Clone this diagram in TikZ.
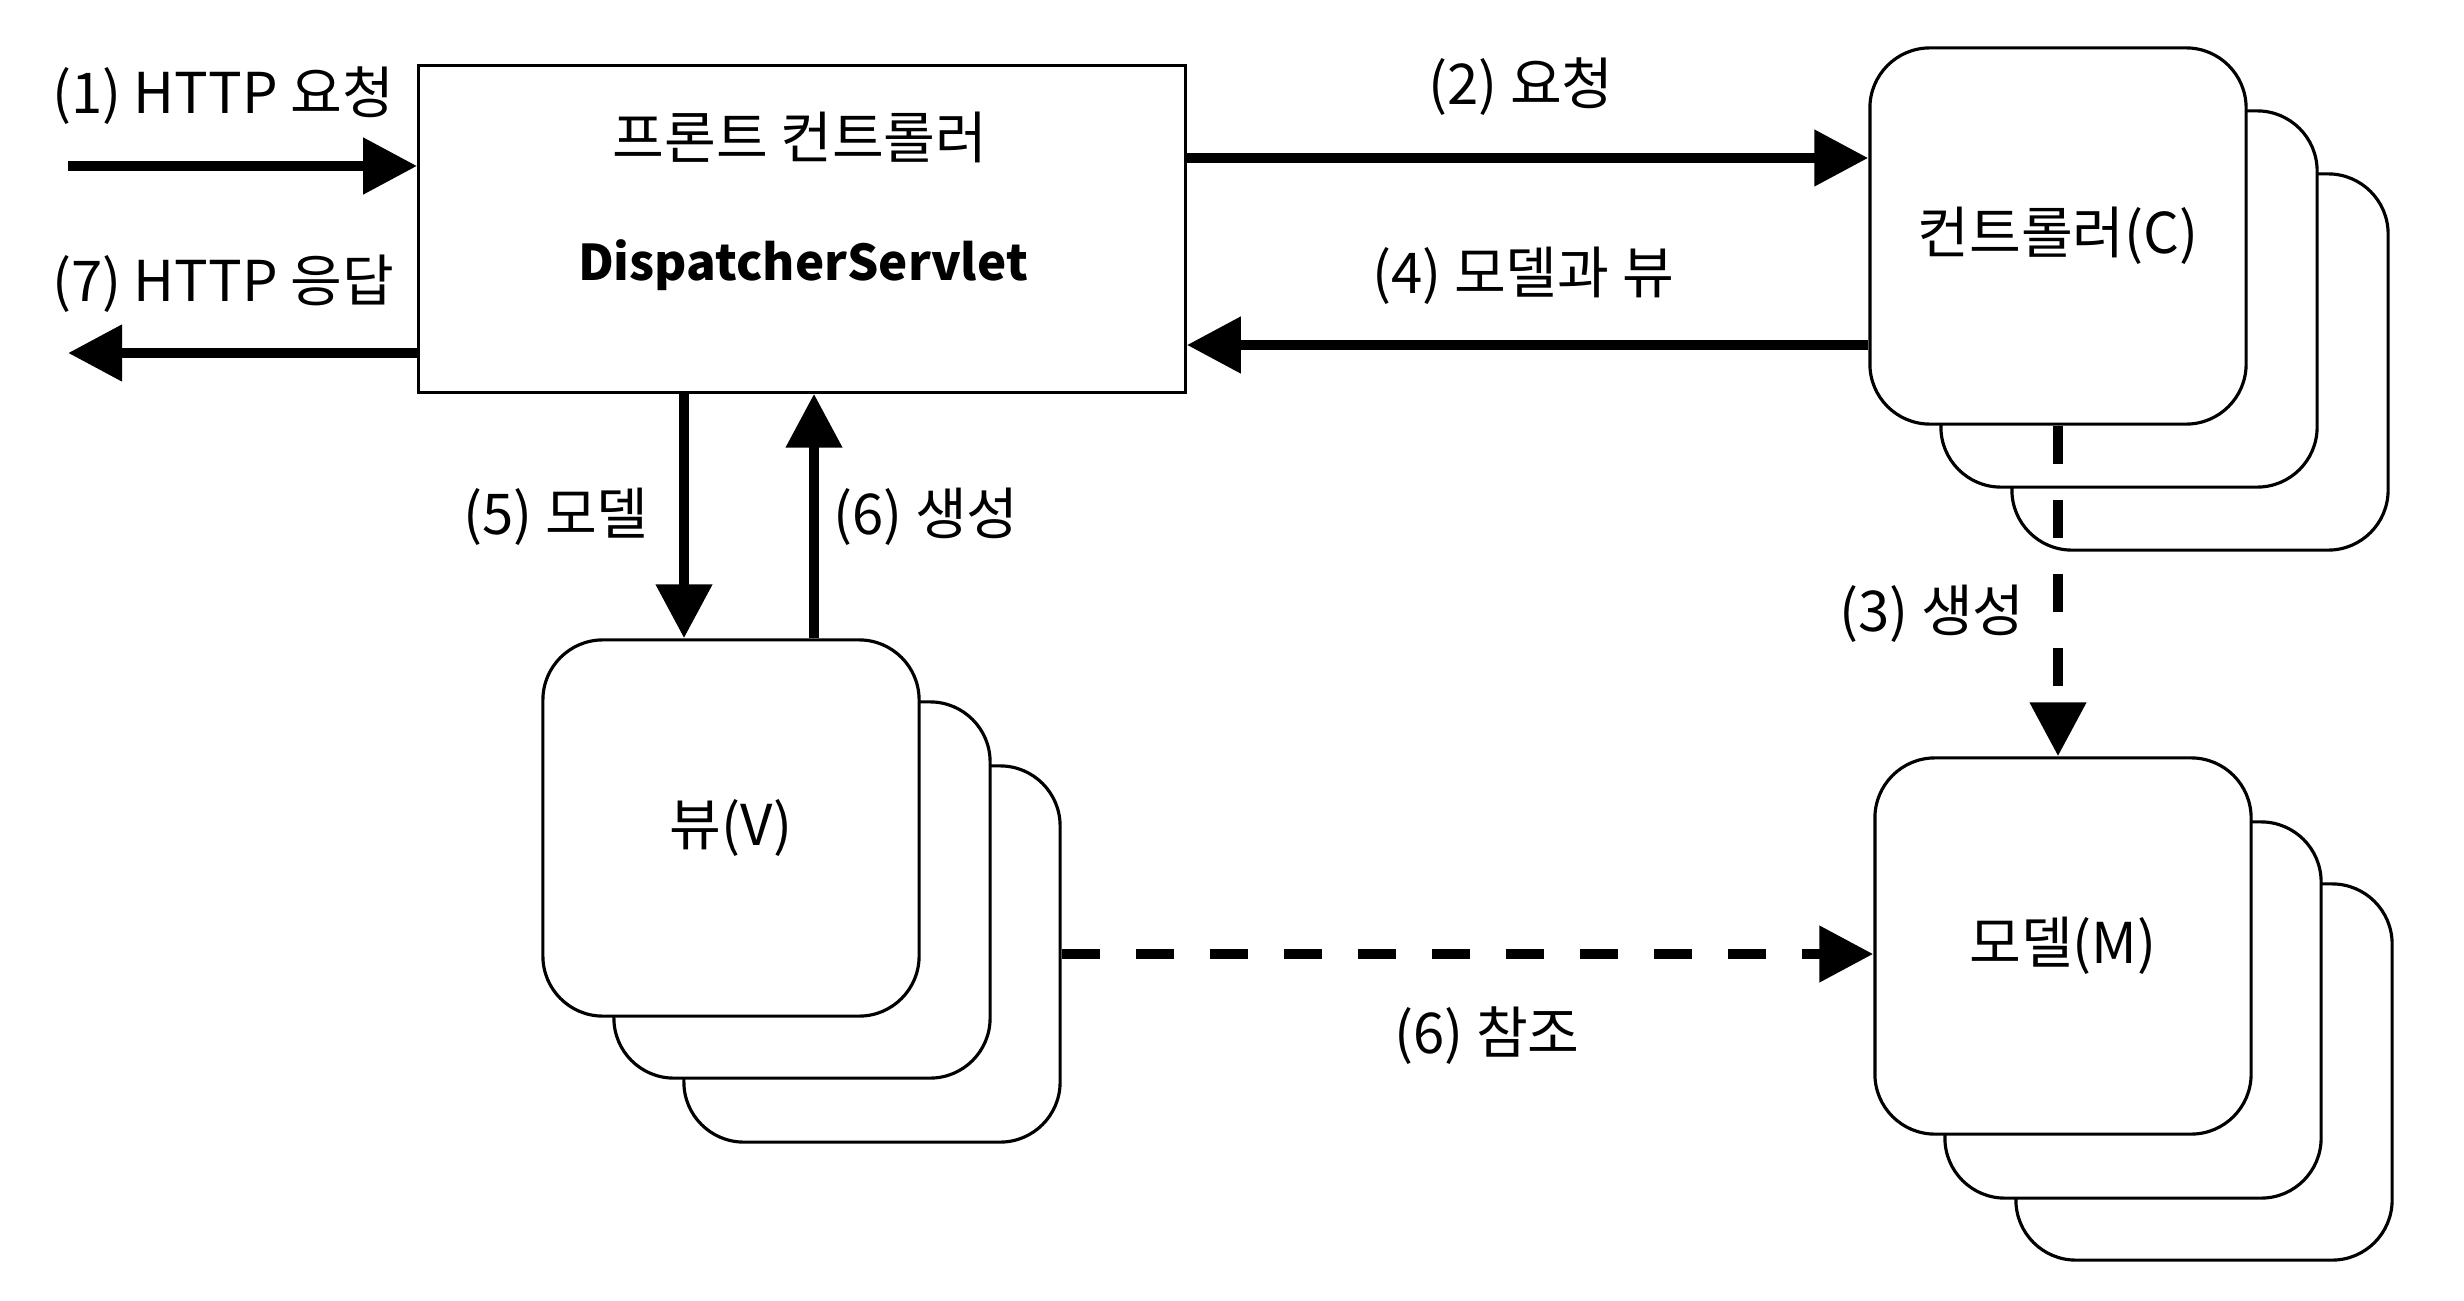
\documentclass[tikz,border=0pt]{standalone}
\usepackage{fontspec}
\setmainfont{Noto Sans CJK KR}
\usepackage{tikz}
\usetikzlibrary{arrows.meta}
\tikzstyle{txt} = [font=\fontsize{16pt}{19pt}\selectfont, inner sep=0pt]
\tikzstyle{box} = [draw, line width=0.9pt, fill=white, inner sep=0pt]
\tikzstyle{stack} = [box, txt, rounded corners=0.6cm, minimum width=3.76cm, minimum height=3.76cm]
\tikzstyle{flow} = [-{Triangle[length=0.54cm,width=0.54cm]}, line width=3.1pt]
\tikzstyle{dashflow} = [flow, dash pattern=on 0.38cm off 0.36cm]

\begin{document}
\begin{tikzpicture} [x=0.01cm, y=-0.01cm]

						\useasboundingbox (0,0) rectangle (2464,1300);

						\node[box, minimum width=7.66cm, minimum height=3.26cm] (FC) at (802,229) {};
						\node[txt] (FCa) at (800,137) {프론트 컨트롤러};
						\node[txt, font=\fontsize{14pt}{18pt}\selectfont\bfseries] (FCb) at (803,265) {DispatcherServlet};

						\node[stack] (C3) at (2200,362) {};
						\node[stack] (C2) at (2129,299) {};
						\node[stack] (C1) at (2058,236) {컨트롤러(C)};

						\node[stack] (V3) at (872,954) {};
						\node[stack] (V2) at (802,890) {};
						\node[stack] (V1) at (731,828) {뷰(V)};

						\node[stack] (M3) at (2204,1072) {};
						\node[stack] (M2) at (2133,1010) {};
						\node[stack] (M1) at (2063,946) {모델(M)};

						\coordinate (A1) at (68,166);
						\coordinate (A7) at (68,353);
						\coordinate (B2) at (1500,158);
						\coordinate (B4) at (1500,345);
						\coordinate (D5) at (684,500);
						\coordinate (D6) at (814,500);

						\draw[flow] (A1) -- (A1 -| FC.west);
						\draw[flow] (A7 -| FC.west) -- (A7);
						\draw[flow] (B2 -| FC.east) -- (B2 -| C1.west);
						\draw[flow] (B4 -| C1.west) -- (B4 -| FC.east);
						\draw[flow] (D5 |- FC.south) -- (D5 |- V1.north);
						\draw[flow] (D6 |- V1.north) -- (D6 |- FC.south);
						\draw[dashflow] (C1.south) -- (C1.south |- M1.north);
						\draw[dashflow] (V3.east) -- (V3.east -| M1.west);

						\node[txt] (L1) at (223,96) {(1) HTTP 요청};
						\node[txt] (L7) at (223,284) {(7) HTTP 응답};
						\node[txt] (L2) at (1521,87) {(2) 요청};
						\node[txt] (L4) at (1523,276) {(4) 모델과 뷰};
						\node[txt] (L5) at (556,517) {(5) 모델};
						\node[txt] (L6) at (926,517) {(6) 생성};
						\node[txt] (L3) at (1932,614) {(3) 생성};
						\node[txt] (L6b) at (1487,1036) {(6) 참조};

					\end{tikzpicture}
\end{document}
